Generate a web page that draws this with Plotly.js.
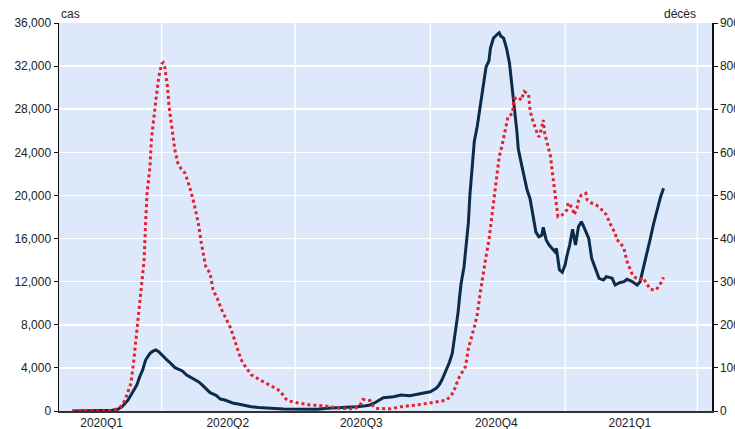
<!DOCTYPE html>
<html>
<head>
<meta charset="utf-8">
<script src="https://cdn.plot.ly/plotly-3.0.1.min.js"></script>
<style>html,body{margin:0;padding:0;background:#fff;}#chart{width:735px;height:429px;}</style>
</head>
<body>
<div id="chart"></div>
<script>
// Cas (axe de gauche)
const casDates = ["2020-01-31","2020-02-15","2020-02-27","2020-03-02","2020-03-05","2020-03-09","2020-03-12","2020-03-15","2020-03-17","2020-03-19","2020-03-21","2020-03-23","2020-03-24","2020-03-26","2020-03-28","2020-03-30","2020-04-01","2020-04-04","2020-04-06","2020-04-08","2020-04-10","2020-04-13","2020-04-15","2020-04-18","2020-04-20","2020-04-22","2020-04-24","2020-04-26","2020-04-28","2020-05-01","2020-05-04","2020-05-08","2020-05-11","2020-05-14","2020-05-20","2020-05-23","2020-05-27","2020-06-01","2020-06-06","2020-06-12","2020-06-17","2020-06-23","2020-06-29","2020-07-05","2020-07-16","2020-07-23","2020-08-03","2020-08-12","2020-08-18","2020-08-21","2020-08-24","2020-08-26","2020-08-30","2020-09-06","2020-09-11","2020-09-17","2020-09-24","2020-10-01","2020-10-05","2020-10-07","2020-10-09","2020-10-11","2020-10-14","2020-10-16","2020-10-18","2020-10-19","2020-10-20","2020-10-21","2020-10-22","2020-10-24","2020-10-26","2020-10-27","2020-10-28","2020-10-29","2020-10-31","2020-11-02","2020-11-04","2020-11-06","2020-11-07","2020-11-08","2020-11-10","2020-11-11","2020-11-13","2020-11-15","2020-11-16","2020-11-17","2020-11-18","2020-11-20","2020-11-22","2020-11-24","2020-11-26","2020-11-27","2020-11-29","2020-11-30","2020-12-02","2020-12-03","2020-12-05","2020-12-06","2020-12-08","2020-12-10","2020-12-12","2020-12-14","2020-12-16","2020-12-17","2020-12-19","2020-12-21","2020-12-23","2020-12-25","2020-12-26","2020-12-27","2020-12-28","2020-12-30","2021-01-01","2021-01-02","2021-01-04","2021-01-06","2021-01-08","2021-01-10","2021-01-12","2021-01-13","2021-01-15","2021-01-17","2021-01-19","2021-01-21","2021-01-24","2021-01-27","2021-01-29","2021-01-31","2021-02-02","2021-02-04","2021-02-07","2021-02-10","2021-02-12","2021-02-15","2021-02-17","2021-02-19","2021-02-21","2021-02-23","2021-02-25","2021-02-26","2021-02-28","2021-03-02","2021-03-04","2021-03-07","2021-03-09"];
const casValues = [0,20,60,150,400,1000,1640,2400,3180,3800,4730,5150,5350,5550,5660,5500,5200,4800,4570,4250,4020,3850,3710,3340,3200,3030,2900,2720,2500,2100,1700,1450,1110,1020,710,650,520,400,320,250,230,190,170,160,160,250,310,400,480,560,750,930,1240,1330,1480,1420,1580,1790,2100,2410,2900,3500,4500,5350,7300,7900,9200,10600,11800,13390,16200,17500,20000,22000,25000,26400,28230,30000,31200,31900,32500,33650,34580,34900,35000,35100,34800,34600,33650,32260,30000,28500,26000,24300,23000,22300,21000,20500,19700,18030,16600,16170,16300,17040,15870,15400,15090,14780,15090,13800,13100,12870,13600,14320,15400,16860,15400,17100,17560,17300,16630,16020,14170,13390,12310,12150,12460,12400,12310,11690,11900,12000,12220,12060,11900,11690,12000,13080,14400,14900,16020,17260,18340,19880,20660];

// Décès (axe de droite)
const decesDates = ["2020-01-31","2020-02-20","2020-02-29","2020-03-04","2020-03-07","2020-03-09","2020-03-11","2020-03-13","2020-03-15","2020-03-17","2020-03-20","2020-03-21","2020-03-22","2020-03-24","2020-03-25","2020-03-28","2020-03-30","2020-04-01","2020-04-02","2020-04-03","2020-04-05","2020-04-06","2020-04-08","2020-04-10","2020-04-12","2020-04-14","2020-04-17","2020-04-20","2020-04-23","2020-04-26","2020-04-28","2020-05-01","2020-05-04","2020-05-06","2020-05-09","2020-05-12","2020-05-18","2020-05-22","2020-05-25","2020-05-28","2020-06-01","2020-06-07","2020-06-14","2020-06-19","2020-06-21","2020-06-24","2020-06-26","2020-07-02","2020-07-11","2020-07-21","2020-08-01","2020-08-10","2020-08-14","2020-08-16","2020-08-21","2020-08-23","2020-08-25","2020-09-04","2020-09-11","2020-09-22","2020-10-03","2020-10-12","2020-10-15","2020-10-17","2020-10-19","2020-10-21","2020-10-25","2020-10-27","2020-10-31","2020-11-02","2020-11-04","2020-11-06","2020-11-08","2020-11-10","2020-11-12","2020-11-14","2020-11-16","2020-11-17","2020-11-19","2020-11-21","2020-11-23","2020-11-26","2020-11-27","2020-11-30","2020-12-02","2020-12-04","2020-12-07","2020-12-08","2020-12-09","2020-12-12","2020-12-14","2020-12-15","2020-12-17","2020-12-18","2020-12-20","2020-12-22","2020-12-23","2020-12-24","2020-12-25","2020-12-26","2020-12-27","2020-12-30","2021-01-02","2021-01-03","2021-01-06","2021-01-07","2021-01-09","2021-01-10","2021-01-12","2021-01-15","2021-01-16","2021-01-19","2021-01-22","2021-01-25","2021-01-27","2021-01-29","2021-01-31","2021-02-02","2021-02-04","2021-02-05","2021-02-07","2021-02-10","2021-02-12","2021-02-14","2021-02-16","2021-02-18","2021-02-21","2021-02-23","2021-02-26","2021-02-28","2021-03-04","2021-03-07","2021-03-09"];
const decesValues = [0,0,2,10,25,45,64,118,188,255,350,435,505,567,630,721,775,805,808,800,750,706,660,605,575,563,551,520,482,435,389,335,319,281,260,234,192,149,120,103,84,72,60,50,45,30,24,19,14,12,6,5,12,27,24,12,6,5,10,14,20,25,35,45,64,80,103,145,195,223,273,319,358,397,451,505,551,590,617,652,683,690,724,728,721,741,735,698,683,652,636,644,675,644,613,590,559,530,500,486,451,455,466,483,470,455,470,488,501,505,489,482,478,470,462,455,439,424,414,397,393,377,348,331,314,309,305,309,294,282,281,296,310];

// Axe des x
const quarterLabels = ["2020Q1","2020Q2","2020Q3","2020Q4","2021Q1"];
const quarterLabelPos = ["2020-02-20","2020-05-16","2020-08-15","2020-11-15","2021-02-14"];
const quarterBounds = ["2020-04-01","2020-07-01","2020-10-01","2021-01-01","2021-04-01"];
const xRange = ["2020-01-22","2021-04-11"];

const fontFam = '"Liberation Sans", Arial, sans-serif';

const traces = [
  {
    x: casDates, y: casValues, type: 'scatter', mode: 'lines', name: 'cas',
    line: {color: '#0b2b49', width: 3}, yaxis: 'y'
  },
  {
    x: decesDates, y: decesValues, type: 'scatter', mode: 'lines', name: 'décès',
    line: {color: '#e3202c', width: 3, dash: 'dot'}, yaxis: 'y2'
  }
];

const shapes = quarterBounds.map(d => ({
  type: 'line', xref: 'x', yref: 'paper', x0: d, x1: d, y0: 0, y1: 1,
  line: {color: '#ffffff', width: 1.5}, layer: 'below'
}));

const layout = {
  width: 735, height: 429,
  margin: {l: 59, r: 23, t: 23, b: 18, pad: 0},
  paper_bgcolor: '#ffffff',
  plot_bgcolor: '#dde9fb',
  showlegend: false,
  font: {family: fontFam, size: 12, color: '#222'},
  xaxis: {
    type: 'date', range: xRange,
    tickvals: quarterLabelPos, ticktext: quarterLabels,
    showgrid: false, zeroline: false, ticks: '',
    showline: true, linecolor: '#333', linewidth: 1.5,
    tickfont: {family: fontFam, size: 12, color: '#222'}
  },
  yaxis: {
    range: [0, 36000], dtick: 4000, tick0: 0, tickformat: ',',
    showgrid: true, gridcolor: '#ffffff', gridwidth: 1.5, zeroline: false,
    showline: true, linecolor: '#111', linewidth: 1.5,
    ticks: 'outside', ticklen: 4, tickcolor: '#111',
    tickfont: {family: fontFam, size: 12, color: '#222'}
  },
  yaxis2: {
    range: [0, 900], dtick: 100, tick0: 0,
    overlaying: 'y', side: 'right', anchor: 'x',
    showgrid: false, zeroline: false,
    showline: true, linecolor: '#111', linewidth: 1.5,
    ticks: 'outside', ticklen: 4, tickcolor: '#111',
    tickfont: {family: fontFam, size: 12, color: '#222'}
  },
  shapes: shapes,
  annotations: [
    {text: 'cas', xref: 'paper', yref: 'paper', x: 0, y: 1, xanchor: 'left', yanchor: 'bottom',
     showarrow: false, font: {family: fontFam, size: 12, color: '#222'}},
    {text: 'décès', xref: 'paper', yref: 'paper', x: 0.9786, y: 1, xanchor: 'right', yanchor: 'bottom',
     showarrow: false, font: {family: fontFam, size: 12, color: '#222'}}
  ]
};

Plotly.newPlot('chart', traces, layout, {displayModeBar: false, staticPlot: true});
</script>
</body>
</html>
